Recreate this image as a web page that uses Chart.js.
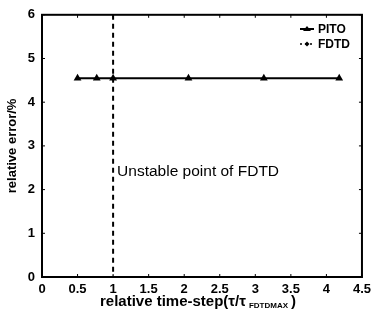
<!DOCTYPE html>
<html>
<head>
<meta charset="utf-8">
<script src="https://cdn.jsdelivr.net/npm/chart.js@4/dist/chart.umd.min.js"></script>
<style>
html,body{margin:0;padding:0;background:#fff;}
#wrap{width:376px;height:322px;position:relative;}
</style>
</head>
<body>
<div id="wrap"><canvas id="c" width="376" height="322"></canvas></div>
<script>
// ---- data ----
const pitoX = [0.5, 0.77, 1.0, 2.06, 3.12, 4.18];
const pitoY = [4.55, 4.55, 4.55, 4.55, 4.55, 4.55];
const fdtdX = [];
const fdtdY = [];
const xTicks = [0, 0.5, 1, 1.5, 2, 2.5, 3, 3.5, 4, 4.5];
const yTicks = [0, 1, 2, 3, 4, 5, 6];
const unstableX = 1;
const seriesNames = ['PITO', 'FDTD'];
const annotationText = 'Unstable point of FDTD';
const xTitleMain = 'relative time-step(\u03C4/\u03C4';
const xTitleSub = 'FDTDMAX';
const xTitleEnd = ')';
const yTitle = 'relative error/%';

const pitoData = pitoX.map((x, i) => ({x: x, y: pitoY[i]}));
const fdtdData = fdtdX.map((x, i) => ({x: x, y: fdtdY[i]}));

const FONT = '"Liberation Sans", Arial, sans-serif';

const decor = {
  id: 'decor',
  afterDatasetsDraw(chart) {
    const ctx = chart.ctx;
    const xs = chart.scales.x, ys = chart.scales.y;
    const a = chart.chartArea;
    ctx.save();
    // unstable dashed line
    const ux = xs.getPixelForValue(unstableX);
    ctx.strokeStyle = '#000';
    ctx.lineWidth = 2;
    ctx.setLineDash([5, 4]);
    ctx.beginPath();
    ctx.moveTo(ux, a.top);
    ctx.lineTo(ux, a.bottom);
    ctx.stroke();
    ctx.setLineDash([]);
    // box
    ctx.lineWidth = 2;
    ctx.strokeRect(a.left, a.top, a.right - a.left, a.bottom - a.top);
    // inward ticks
    ctx.lineWidth = 1;
    xTicks.forEach(v => {
      const p = xs.getPixelForValue(v);
      ctx.beginPath(); ctx.moveTo(p, a.bottom); ctx.lineTo(p, a.bottom - 3); ctx.stroke();
      ctx.beginPath(); ctx.moveTo(p, a.top); ctx.lineTo(p, a.top + 3); ctx.stroke();
    });
    yTicks.forEach(v => {
      const p = ys.getPixelForValue(v);
      ctx.beginPath(); ctx.moveTo(a.left, p); ctx.lineTo(a.left + 3, p); ctx.stroke();
      ctx.beginPath(); ctx.moveTo(a.right, p); ctx.lineTo(a.right - 3, p); ctx.stroke();
    });
    // annotation
    ctx.fillStyle = '#000';
    ctx.font = '15.5px ' + FONT;
    ctx.textAlign = 'left';
    ctx.textBaseline = 'middle';
    ctx.fillText(annotationText, ux + 4, ys.getPixelForValue(2.42));
    // legend
    const ds = chart.data.datasets;
    const lx = 300, ly = [29, 44];
    ds.forEach((d, i) => {
      const y = ly[i];
      ctx.strokeStyle = '#000';
      ctx.lineWidth = i === 0 ? 2 : 1.5;
      ctx.setLineDash(i === 0 ? [] : [2, 3]);
      ctx.beginPath(); ctx.moveTo(lx, y); ctx.lineTo(lx + 14, y); ctx.stroke();
      ctx.setLineDash([]);
      ctx.fillStyle = '#000';
      ctx.beginPath();
      if (i === 0) {
        ctx.moveTo(lx + 7, y - 3); ctx.lineTo(lx + 11, y + 2); ctx.lineTo(lx + 3, y + 2); ctx.closePath();
      } else {
        ctx.moveTo(lx + 7, y - 2.5); ctx.lineTo(lx + 9.5, y); ctx.lineTo(lx + 7, y + 2.5); ctx.lineTo(lx + 4.5, y); ctx.closePath();
      }
      ctx.fill();
      ctx.font = 'bold 12px ' + FONT;
      ctx.textBaseline = 'middle';
      ctx.fillText(d.label, lx + 18, y + 1);
    });
    // y title
    ctx.save();
    ctx.translate(12, (a.top + a.bottom) / 2);
    ctx.rotate(-Math.PI / 2);
    ctx.font = 'bold 13px ' + FONT;
    ctx.textAlign = 'center';
    ctx.textBaseline = 'middle';
    ctx.fillText(yTitle, 0, 0);
    ctx.restore();
    // x title with subscript
    ctx.textAlign = 'left';
    ctx.textBaseline = 'alphabetic';
    const fMain = 'bold 15px ' + FONT, fSub = 'bold 8px ' + FONT;
    ctx.font = fMain; const w1 = ctx.measureText(xTitleMain).width;
    ctx.font = fSub; const w2 = ctx.measureText(xTitleSub).width;
    ctx.font = fMain; const w3 = ctx.measureText(xTitleEnd).width;
    const total = w1 + 3 + w2 + 3 + w3;
    let sx = 198 - total / 2;
    const by = 306;
    ctx.font = fMain; ctx.fillText(xTitleMain, sx, by);
    ctx.font = fSub; ctx.fillText(xTitleSub, sx + w1 + 3, by + 2);
    ctx.font = fMain; ctx.fillText(xTitleEnd, sx + w1 + 3 + w2 + 3, by);
    ctx.restore();
  }
};

new Chart(document.getElementById('c'), {
  type: 'line',
  data: {
    datasets: [
      {label: seriesNames[0], data: pitoData, borderColor: '#000', backgroundColor: '#000',
       borderWidth: 2, pointStyle: 'triangle', pointRadius: 4.5, pointBorderWidth: 0, tension: 0},
      {label: seriesNames[1], data: fdtdData, borderColor: '#000', backgroundColor: '#000',
       borderWidth: 1.5, borderDash: [2, 3], pointStyle: 'rectRot', pointRadius: 2.5, tension: 0}
    ]
  },
  options: {
    responsive: false,
    animation: false,
    devicePixelRatio: 1,
    layout: {padding: {left: 0, top: 13, right: 8, bottom: 0}},
    plugins: {legend: {display: false}, tooltip: {enabled: false}},
    scales: {
      x: {
        type: 'linear', min: 0, max: 4.5,
        afterBuildTicks: s => { s.ticks = xTicks.map(v => ({value: v})); },
        afterFit: s => { s.height = 45; },
        grid: {display: false, drawTicks: false},
        border: {display: false},
        ticks: {color: '#000', font: {family: FONT, size: 13, weight: 'bold'}, padding: 5,
                maxRotation: 0, autoSkip: false, callback: v => String(v)}
      },
      y: {
        type: 'linear', min: 0, max: 6,
        afterBuildTicks: s => { s.ticks = yTicks.map(v => ({value: v})); },
        afterFit: s => { s.width = 42; },
        grid: {display: false, drawTicks: false},
        border: {display: false},
        ticks: {color: '#000', font: {family: FONT, size: 13, weight: 'bold'}, padding: 7,
                callback: v => String(v)}
      }
    }
  },
  plugins: [decor]
});
</script>
</body>
</html>
